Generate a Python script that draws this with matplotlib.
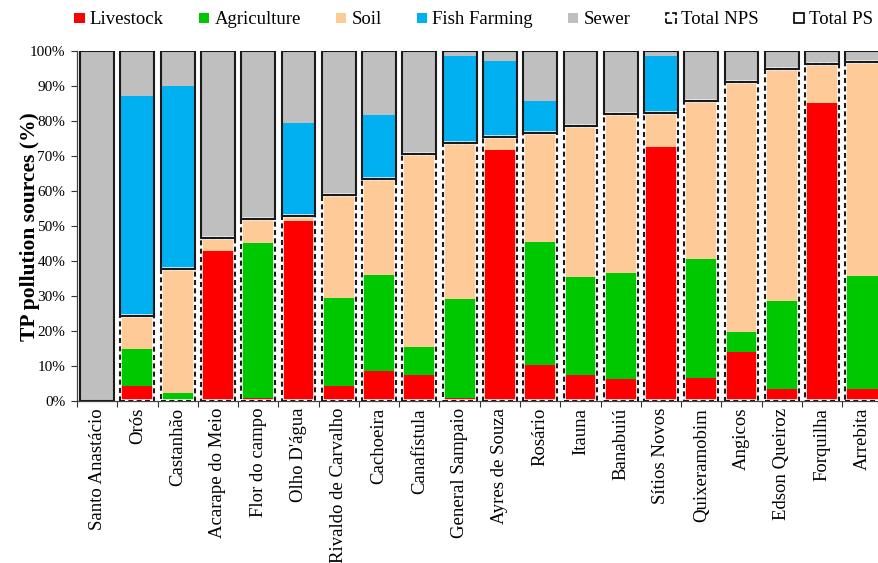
import matplotlib
matplotlib.use("Agg")
import matplotlib.pyplot as plt
import numpy as np
from matplotlib.patches import Patch
from matplotlib.ticker import FuncFormatter

plt.rcParams["font.family"] = ["Liberation Serif", "DejaVu Serif"]

reservoirs = [
    "Santo Anastácio", "Orós", "Castanhão", "Acarape do Meio", "Flor do campo",
    "Olho D'água", "Rivaldo de Carvalho", "Cachoeira", "Canafístula",
    "General Sampaio", "Ayres de Souza", "Rosário", "Itauna", "Banabuiú",
    "Sítios Novos", "Quixeramobim", "Angicos", "Edson Queiroz", "Forquilha",
    "Arrebita",
]

# share of TP load per source (%)
livestock = [0, 4.2, 0, 43.0, 1.0, 51.5, 4.2, 8.6, 7.4, 0.9,
             71.8, 10.2, 7.4, 6.2, 72.8, 6.7, 14.0, 3.4, 85.2, 3.4]
agriculture = [0, 10.8, 2.4, 0, 44.3, 0, 25.4, 27.4, 8.1, 28.2,
               0, 35.2, 28.1, 30.3, 0, 33.8, 5.6, 25.2, 0, 32.4]
soil = [0, 9.4, 35.5, 3.6, 6.7, 1.5, 29.3, 27.5, 55.1, 44.7,
        3.8, 31.2, 43.3, 45.6, 9.5, 45.4, 71.8, 66.4, 11.3, 61.2]
fish_farming = [0, 62.9, 52.1, 0, 0, 26.6, 0, 18.3, 0, 25.0,
                21.7, 9.3, 0, 0, 16.5, 0, 0, 0, 0, 0]
sewer = [100, 12.7, 10.0, 53.4, 48.0, 20.4, 41.1, 18.2, 29.4, 1.2,
         2.7, 14.1, 21.2, 17.9, 1.2, 14.1, 8.6, 5.0, 3.5, 3.0]

sources = ["Livestock", "Agriculture", "Soil", "Fish Farming", "Sewer"]
colors = ["#FF0000", "#00C800", "#FDCA98", "#00B0F0", "#BFBFBF"]

x = np.arange(len(reservoirs))
data = np.array([livestock, agriculture, soil, fish_farming, sewer])
nps = data[:3].sum(axis=0)
ps = data[3:].sum(axis=0)

fig = plt.figure(figsize=(8.79, 5.63), dpi=100)
W, H = 879, 563
ax = fig.add_axes([77 / W, (H - 401) / H, 805.5 / W, 349.5 / H])

bar_w = 0.8
bottom = np.zeros(len(x))
for vals, c in zip(data, colors):
    ax.bar(x, vals, bottom=bottom, width=bar_w, color=c, linewidth=0, zorder=2)
    bottom += vals

# outlines for non-point (dashed) and point (solid) totals
out_w = 0.84
has_nps = nps > 0
ax.bar(x[has_nps], nps[has_nps], width=out_w, fill=False, edgecolor="white",
       linewidth=2.6, zorder=3)
ax.bar(x[has_nps], nps[has_nps], width=out_w, fill=False, edgecolor="#1a1a1a",
       linewidth=1.5, linestyle=(0, (2.4, 1.6)), zorder=4)
ax.bar(x, ps, bottom=nps, width=out_w, fill=False, edgecolor="#1a1a1a",
       linewidth=1.5, zorder=4)

ax.set_xlim(-0.5, len(x) - 0.5)
ax.set_ylim(0, 100)
ax.set_yticks(np.arange(0, 101, 10))
ax.yaxis.set_major_formatter(FuncFormatter(lambda v, _: f"{v:.0f}%"))
ax.tick_params(axis="y", labelsize=11, length=4.5, width=0.8, pad=4,
               colors="#333333", labelcolor="black")

ax.set_xticks(x)
ax.set_xticklabels(reservoirs, rotation=90, fontsize=13.5)
ax.tick_params(axis="x", length=0, pad=5)
ax.set_xticks(np.arange(-0.5, len(x), 1), minor=True)
ax.tick_params(axis="x", which="minor", length=4, width=0.8, colors="#333333")

for side in ("top", "right"):
    ax.spines[side].set_visible(False)
for side in ("left", "bottom"):
    ax.spines[side].set_color("#444444")
    ax.spines[side].set_linewidth(0.9)

ax.set_ylabel("TP pollution sources (%)", fontsize=15.5, fontweight="bold")
ax.yaxis.set_label_coords(-0.046, 0.5)

handles = [Patch(facecolor=c, edgecolor="none", label=s)
           for s, c in zip(sources, colors)]
handles.append(Patch(facecolor="white", edgecolor="black", linestyle="--",
                     linewidth=1.2, label="Total NPS"))
handles.append(Patch(facecolor="white", edgecolor="black", linewidth=1.2,
                     label="Total PS"))
fig.legend(handles=handles, loc="center left", ncol=7, frameon=False,
           fontsize=13.5, handlelength=0.55, handleheight=0.5,
           handletextpad=0.28, columnspacing=1.87, borderpad=0,
           bbox_to_anchor=(65 / W, 1 - 20 / H), bbox_transform=fig.transFigure)

fig.savefig("out.png", dpi=100)
